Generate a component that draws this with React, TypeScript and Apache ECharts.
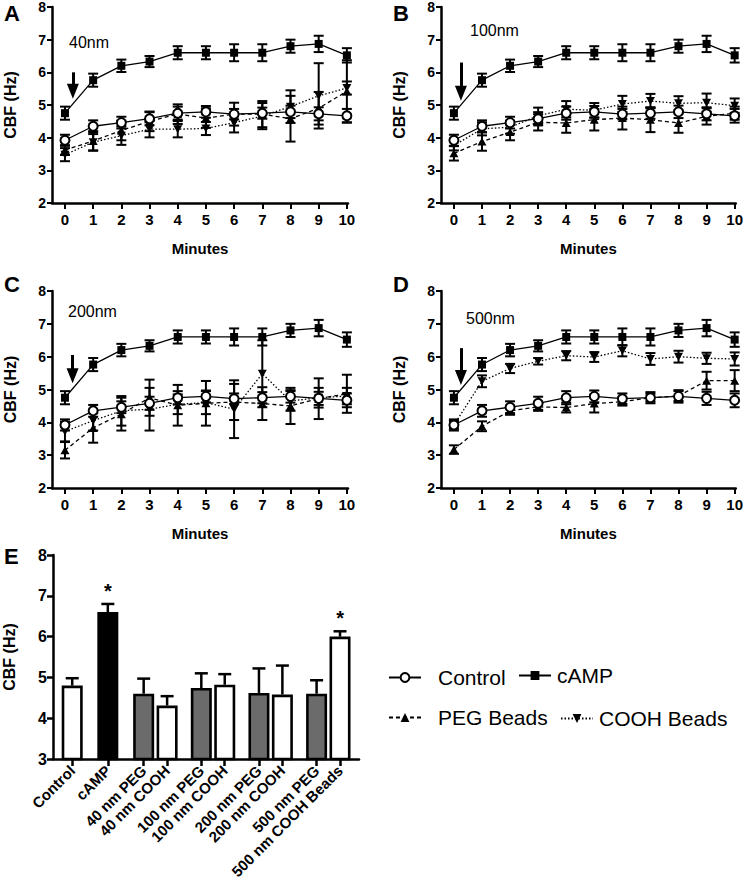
import React, { useEffect, useRef } from 'react';
import * as echarts from 'echarts';

const FONT = '"Liberation Sans", Arial, Helvetica, sans-serif';

// ---------- Data: time-course panels ----------
const minutes = [0, 1, 2, 3, 4, 5, 6, 7, 8, 9, 10];
const lineYTicks = [2, 3, 4, 5, 6, 7, 8];

const controlMean = [3.92, 4.35, 4.46, 4.58, 4.75, 4.79, 4.72, 4.75, 4.79, 4.73, 4.67];
const controlErr = [0.17, 0.18, 0.18, 0.2, 0.2, 0.18, 0.16, 0.17, 0.19, 0.2, 0.21];
const campMean = [4.75, 5.76, 6.2, 6.33, 6.6, 6.6, 6.6, 6.6, 6.8, 6.87, 6.52];
const campErr = [0.2, 0.2, 0.19, 0.17, 0.2, 0.2, 0.26, 0.26, 0.2, 0.25, 0.22];

const peg40Mean = [3.62, 3.9, 4.22, 4.5, 4.72, 4.6, 4.72, 4.72, 4.58, 4.9, 5.42];
const peg40Err = [0.15, 0.3, 0.3, 0.3, 0.3, 0.3, 0.35, 0.4, 0.7, 0.5, 0.95];
const cooh40Mean = [3.48, 3.86, 4.06, 4.26, 4.26, 4.28, 4.46, 4.66, 4.95, 5.28, 5.52];
const cooh40Err = [0.2, 0.25, 0.28, 0.25, 0.25, 0.2, 0.3, 0.4, 0.5, 1.0, 0.2];

const peg100Mean = [3.52, 3.88, 4.17, 4.47, 4.45, 4.55, 4.6, 4.55, 4.45, 4.65, 4.75];
const peg100Err = [0.22, 0.28, 0.25, 0.25, 0.3, 0.33, 0.35, 0.38, 0.3, 0.25, 0.2];
const cooh100Mean = [3.76, 4.27, 4.32, 4.67, 4.87, 4.84, 5.03, 5.12, 5.05, 5.07, 4.98];
const cooh100Err = [0.15, 0.2, 0.2, 0.25, 0.25, 0.22, 0.25, 0.22, 0.22, 0.28, 0.22];

const peg200Mean = [3.15, 3.83, 4.25, 4.75, 4.52, 4.58, 4.62, 4.57, 4.5, 4.72, 4.87];
const peg200Err = [0.25, 0.45, 0.5, 0.55, 0.62, 0.68, 0.55, 0.5, 0.55, 0.62, 0.58];
const cooh200Mean = [3.72, 4.05, 4.35, 4.4, 4.55, 4.6, 4.4, 5.48, 4.65, 4.75, 4.8];
const cooh200Err = [0.3, 0.3, 0.45, 0.65, 0.3, 0.35, 0.88, 1.02, 0.3, 0.3, 0.25];

const peg500Mean = [3.17, 3.88, 4.35, 4.47, 4.45, 4.57, 4.63, 4.75, 4.8, 5.27, 5.27];
const peg500Err = [0.13, 0.15, 0.12, 0.12, 0.15, 0.27, 0.12, 0.12, 0.15, 0.27, 0.32];
const cooh500Mean = [3.92, 5.25, 5.64, 5.86, 6.03, 5.99, 6.18, 5.93, 6.0, 5.95, 5.93];
const cooh500Err = [0.12, 0.18, 0.14, 0.1, 0.14, 0.15, 0.17, 0.18, 0.18, 0.17, 0.2];

const panelLetters = ['A', 'B', 'C', 'D'];
const sizeLabels = ['40nm', '100nm', '200nm', '500nm'];
const arrowMinute = [0.28, 0.25, 0.27, 0.25];
const arrowStart = [6.0, 6.3, 6.05, 6.26];
const arrowTip = [5.19, 5.13, 5.19, 5.14];

// ---------- Data: bar panel ----------
const barCategories = [
  'Control', 'cAMP', '40 nm PEG', '40 nm COOH', '100 nm PEG', '100 nm COOH',
  '200 nm PEG', '200 nm COOH', '500 nm PEG', '500 nm COOH Beads',
];
const barKinds = ['control', 'camp', 'peg', 'cooh', 'peg', 'cooh', 'peg', 'cooh', 'peg', 'cooh'];
const barMeans = [4.8, 6.6, 4.6, 4.31, 4.74, 4.82, 4.62, 4.58, 4.6, 6.0];
const barErrs = [0.18, 0.2, 0.37, 0.23, 0.36, 0.26, 0.6, 0.71, 0.33, 0.13];
const barStars = ['', '*', '', '', '', '', '', '', '', '*'];
const barYTicks = [3, 4, 5, 6, 7, 8];

const legendNames = ['Control', 'cAMP', 'PEG Beads', 'COOH Beads'];

// ---------- Layout / style ----------
const lineGrids = [
  { left: 52, top: 6, width: 296, height: 197 },
  { left: 441, top: 6, width: 299, height: 197 },
  { left: 52, top: 291, width: 296, height: 197 },
  { left: 441, top: 291, width: 299, height: 197 },
];
const barGrid = { left: 52, top: 555, width: 307, height: 204 };

const TRI_UP = 'path://M5,0 L10,9 L0,9 Z';
const TRI_DOWN = 'path://M0,0 L10,0 L5,9 Z';

const barColor: Record<string, string> = {
  control: '#ffffff',
  camp: '#000000',
  peg: '#6b6b6b',
  cooh: '#ffffff',
};

// bar x positions (layout): singles, then adjacent PEG/COOH pairs
const barPos = barCategories.map((_, i) =>
  i < 2 ? i * 1.52 : 3.05 + Math.floor((i - 2) / 2) * 2.46 + ((i - 2) % 2)
);

function errRender(capHalf: number, lw: number) {
  return (params: any, api: any) => {
    const x = api.value(0);
    const y = api.value(1);
    const e = api.value(2);
    const top = api.coord([x, y + e]);
    const bot = api.coord([x, y - e]);
    const st = { stroke: '#000', lineWidth: lw };
    return {
      type: 'group',
      children: [
        { type: 'line', shape: { x1: top[0], y1: top[1], x2: bot[0], y2: bot[1] }, style: st },
        { type: 'line', shape: { x1: top[0] - capHalf, y1: top[1], x2: top[0] + capHalf, y2: top[1] }, style: st },
        { type: 'line', shape: { x1: bot[0] - capHalf, y1: bot[1], x2: bot[0] + capHalf, y2: bot[1] }, style: st },
      ],
    };
  };
}

function barErrRender(params: any, api: any) {
  const x = api.value(0);
  const y = api.value(1);
  const e = api.value(2);
  const star = barStars[params.dataIndex];
  const base = api.coord([x, y]);
  const top = api.coord([x, y + e]);
  const st = { stroke: '#000', lineWidth: 2.5 };
  const children: any[] = [
    { type: 'line', shape: { x1: base[0], y1: base[1], x2: top[0], y2: top[1] }, style: st },
    { type: 'line', shape: { x1: top[0] - 6.5, y1: top[1], x2: top[0] + 6.5, y2: top[1] }, style: st },
  ];
  if (star) {
    children.push({
      type: 'text',
      x: top[0],
      y: top[1] - 3,
      style: {
        text: star,
        font: `bold 20px ${FONT}`,
        fill: '#000',
        align: 'center',
        verticalAlign: 'bottom',
      },
    });
  }
  return { type: 'group', children };
}

const axisLineStyle = { color: '#000', width: 2.5 };

export default function App() {
  const ref = useRef<HTMLDivElement>(null);

  useEffect(() => {
    if (!ref.current) return;
    const chart = echarts.init(ref.current, undefined, { renderer: 'svg' });

    const panels = [
      { peg: peg40Mean, pegErr: peg40Err, cooh: cooh40Mean, coohErr: cooh40Err },
      { peg: peg100Mean, pegErr: peg100Err, cooh: cooh100Mean, coohErr: cooh100Err },
      { peg: peg200Mean, pegErr: peg200Err, cooh: cooh200Mean, coohErr: cooh200Err },
      { peg: peg500Mean, pegErr: peg500Err, cooh: cooh500Mean, coohErr: cooh500Err },
    ];

    const xAxes: any[] = [];
    const yAxes: any[] = [];
    const series: any[] = [];
    const graphics: any[] = [];

    lineGrids.forEach((g, i) => {
      xAxes.push({
        gridIndex: i,
        type: 'value',
        min: -0.46,
        max: 10.04,
        name: 'Minutes',
        nameLocation: 'middle',
        nameGap: 38,
        nameTextStyle: { fontFamily: FONT, fontWeight: 'bold', fontSize: 15, color: '#000' },
        axisLine: { show: true, onZero: false, lineStyle: axisLineStyle },
        axisTick: { show: true, length: 6, customValues: minutes, lineStyle: { color: '#000', width: 2 } },
        axisLabel: {
          customValues: minutes,
          fontFamily: FONT, fontWeight: 'bold', fontSize: 15, color: '#000', margin: 9,
        },
        splitLine: { show: false },
      });
      yAxes.push({
        gridIndex: i,
        type: 'value',
        min: lineYTicks[0],
        max: lineYTicks[lineYTicks.length - 1],
        interval: 1,
        name: 'CBF (Hz)',
        nameLocation: 'middle',
        nameGap: 34,
        nameTextStyle: { fontFamily: FONT, fontWeight: 'bold', fontSize: 16, color: '#000' },
        axisLine: { show: true, onZero: false, lineStyle: axisLineStyle },
        axisTick: { show: true, length: 5, lineStyle: { color: '#000', width: 2 } },
        axisLabel: { fontFamily: FONT, fontWeight: 'bold', fontSize: 14, color: '#000', margin: 6 },
        splitLine: { show: false },
      });

      const p = panels[i];
      const groups = [
        { mean: p.peg, err: p.pegErr },
        { mean: p.cooh, err: p.coohErr },
        { mean: controlMean, err: controlErr },
        { mean: campMean, err: campErr },
      ];
      groups.forEach((gr, k) => {
        series.push({
          type: 'custom',
          name: 'err' + i + '_' + k,
          xAxisIndex: i,
          yAxisIndex: i,
          renderItem: errRender(5, 2),
          data: minutes.map((m, j) => [m, gr.mean[j], gr.err[j]]),
          encode: { x: 0, y: 1 },
          z: 2,
          silent: true,
        });
      });

      const pxPerUnit = g.height / 6;
      const headH = 15;

      series.push({
        type: 'line',
        name: 'PEG Beads',
        xAxisIndex: i,
        yAxisIndex: i,
        data: minutes.map((m, j) => [m, p.peg[j]]),
        symbol: TRI_UP,
        symbolSize: [9, 8],
        lineStyle: { color: '#000', width: 1.3, type: [4, 3] },
        itemStyle: { color: '#000' },
        z: 3,
      });
      series.push({
        type: 'line',
        name: 'COOH Beads',
        xAxisIndex: i,
        yAxisIndex: i,
        data: minutes.map((m, j) => [m, p.cooh[j]]),
        symbol: TRI_DOWN,
        symbolSize: [9, 8],
        lineStyle: { color: '#000', width: 1.3, type: [1.5, 2] },
        itemStyle: { color: '#000' },
        z: 3,
      });
      series.push({
        type: 'line',
        name: 'Control',
        xAxisIndex: i,
        yAxisIndex: i,
        data: minutes.map((m, j) => [m, controlMean[j]]),
        symbol: 'circle',
        symbolSize: 9,
        lineStyle: { color: '#000', width: 1.3 },
        itemStyle: { color: '#fff', borderColor: '#000', borderWidth: 2 },
        z: 4,
      });
      series.push({
        type: 'line',
        name: 'cAMP',
        xAxisIndex: i,
        yAxisIndex: i,
        data: minutes.map((m, j) => [m, campMean[j]]),
        symbol: 'rect',
        symbolSize: 8,
        lineStyle: { color: '#000', width: 1.3 },
        itemStyle: { color: '#000' },
        z: 4,
        markLine: {
          silent: true,
          animation: false,
          symbol: ['none', 'triangle'],
          symbolSize: [12, headH],
          label: { show: false },
          lineStyle: { color: '#000', width: 3, type: 'solid' },
          emphasis: { disabled: true },
          data: [
            [
              { coord: [arrowMinute[i], arrowStart[i]] },
              { coord: [arrowMinute[i], arrowTip[i] + headH / 2 / pxPerUnit] },
            ],
          ],
        },
      });

      graphics.push({
        type: 'text',
        x: g.left - 48,
        y: g.top + (i < 2 ? 7 : -7),
        style: {
          text: panelLetters[i],
          font: `bold 22px ${FONT}`,
          fill: '#000',
          verticalAlign: 'middle',
        },
      });
    });

    // size labels
    const sizeLabelPos = [
      { x: 69, y: 42 },
      { x: 470, y: 30 },
      { x: 68, y: 311 },
      { x: 466, y: 318 },
    ];
    sizeLabelPos.forEach((pt, i) => {
      graphics.push({
        type: 'text',
        x: pt.x,
        y: pt.y,
        style: { text: sizeLabels[i], font: `16px ${FONT}`, fill: '#000', verticalAlign: 'middle' },
      });
    });
    graphics.push({
      type: 'text',
      x: 4,
      y: 556,
      style: { text: 'E', font: `bold 22px ${FONT}`, fill: '#000', verticalAlign: 'middle' },
    });

    // bar panel
    const bi = 4;
    xAxes.push({
      gridIndex: bi,
      type: 'value',
      min: -0.82,
      max: 12.24,
      axisLine: { show: true, onZero: false, lineStyle: axisLineStyle },
      axisTick: { show: true, length: 7, customValues: barPos, lineStyle: { color: '#000', width: 2.5 } },
      axisLabel: {
        customValues: barPos,
        rotate: 45,
        margin: 9,
        fontFamily: FONT,
        fontWeight: 'bold',
        fontSize: 15,
        color: '#000',
        formatter: (v: number) => {
          const idx = barPos.findIndex((p) => Math.abs(p - v) < 1e-6);
          return idx >= 0 ? barCategories[idx] : '';
        },
      },
      splitLine: { show: false },
    });
    yAxes.push({
      gridIndex: bi,
      type: 'value',
      min: barYTicks[0],
      max: barYTicks[barYTicks.length - 1],
      interval: 1,
      name: 'CBF (Hz)',
      nameLocation: 'middle',
      nameGap: 36,
      nameTextStyle: { fontFamily: FONT, fontWeight: 'bold', fontSize: 16, color: '#000' },
      axisLine: { show: true, onZero: false, lineStyle: axisLineStyle },
      axisTick: { show: true, length: 6, lineStyle: { color: '#000', width: 2.5 } },
      axisLabel: { fontFamily: FONT, fontWeight: 'bold', fontSize: 16, color: '#000', margin: 6 },
      splitLine: { show: false },
    });
    series.push({
      type: 'bar',
      name: 'bars',
      xAxisIndex: bi,
      yAxisIndex: bi,
      barWidth: 21,
      data: barMeans.map((v, i) => ({
        value: [barPos[i], v],
        itemStyle: { color: barColor[barKinds[i]], borderColor: '#000', borderWidth: 2.6 },
      })),
      z: 2,
      silent: true,
    });
    series.push({
      type: 'custom',
      name: 'barErr',
      xAxisIndex: bi,
      yAxisIndex: bi,
      renderItem: barErrRender,
      data: barMeans.map((v, i) => [barPos[i], v, barErrs[i]]),
      encode: { x: 0, y: 1 },
      z: 3,
      silent: true,
    });

    const legendBase = {
      selectedMode: false,
      itemWidth: 32,
      itemHeight: 11,
      padding: 0,
    };
    const legendSpec = [
      { name: legendNames[0], left: 388, top: 667, pad: 12 },
      { name: legendNames[1], left: 518, top: 665, pad: 1 },
      { name: legendNames[2], left: 388, top: 707, pad: 12 },
      { name: legendNames[3], left: 560, top: 708, pad: 1 },
    ];

    chart.setOption({
      animation: false,
      textStyle: { fontFamily: FONT },
      grid: [...lineGrids, barGrid].map((g) => ({ ...g, containLabel: false })),
      xAxis: xAxes,
      yAxis: yAxes,
      legend: legendSpec.map((l) => ({
        ...legendBase,
        data: [l.name],
        left: l.left,
        top: l.top,
        textStyle: { fontFamily: FONT, fontSize: 21, color: '#000', padding: [0, 0, 0, l.pad] },
      })),
      graphic: graphics,
      series,
    });

    return () => chart.dispose();
  }, []);

  return (
    <div
      ref={ref}
      style={{ position: 'absolute', left: 0, top: 0, width: 746, height: 888, background: '#fff' }}
    />
  );
}
